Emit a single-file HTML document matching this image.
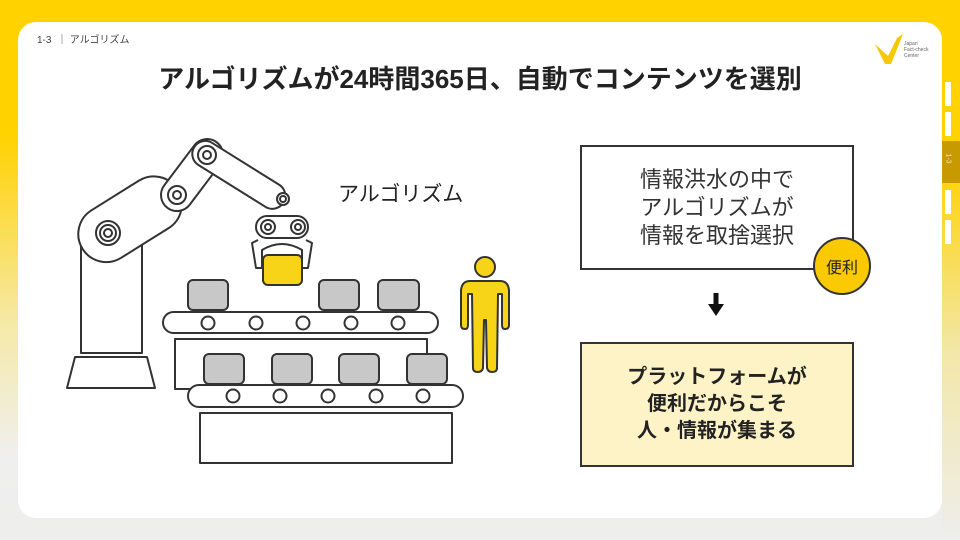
<!DOCTYPE html>
<html><head><meta charset="utf-8"><style>
html,body{margin:0;padding:0}
body{width:960px;height:540px;position:relative;overflow:hidden;font-family:"Liberation Sans","Noto Sans CJK JP",sans-serif;
background:linear-gradient(180deg,#ffd200 0%,#ffd200 25%,#f6e9a8 60%,#efefef 85%,#eeeeec 100%);}
.card{position:absolute;left:18px;top:22px;width:924px;height:496px;background:#fff;border-radius:18px;}
.t{position:absolute;white-space:nowrap;color:#222}
.box{position:absolute;border:2px solid #333;box-sizing:border-box;display:flex;align-items:center;justify-content:center;text-align:center;}
.tab{position:absolute;left:945px;width:6px;background:#fff}
</style></head><body>
<div style="position:absolute;left:942px;top:0;width:18px;height:540px;background:linear-gradient(180deg,#ffd200 0%,#ffd200 30%,#f3e7a8 65%,#eeeeec 100%)"></div>
<div class="card"></div>
<div class="tab" style="top:82px;height:24px"></div>
<div class="tab" style="top:112px;height:24px"></div>
<div style="position:absolute;left:942px;top:141px;width:18px;height:42px;background:#c69a00"></div>
<div class="t" style="left:943px;top:155px;font-size:7px;color:#f5e6b0;transform:rotate(90deg)">1-3</div>
<div class="tab" style="top:190px;height:24px"></div>
<div class="tab" style="top:220px;height:24px"></div>
<div class="t" style="left:37px;top:31px;font-size:10px;color:#444">1-3 &nbsp;｜ アルゴリズム</div>
<div class="t" style="left:0;width:960px;text-align:center;top:59px;font-size:26px;font-weight:bold;color:#222">アルゴリズムが24時間365日、自動でコンテンツを選別</div>
<svg style="position:absolute;left:873px;top:32px" width="36" height="36"><path d="M2 12 L12 32 L18 32 L30 2 L24 6 L15 24 Z" fill="#f5c800"/></svg>
<div class="t" style="left:904px;top:41px;font-size:5px;line-height:6px;color:#666">Japan<br>Fact-check<br>Center</div>

<svg style="position:absolute;left:0;top:0" width="960" height="540">
<g stroke="#333" stroke-width="2" fill="#fff" stroke-linejoin="round">
<polygon points="75,357 147,357 155,388 67,388"/>
<rect x="81" y="243" width="61" height="110"/>
<g transform="translate(108,233) rotate(-32)"><rect x="-30" y="-28" width="112" height="56" rx="28"/></g>
<g transform="translate(177,195) rotate(-53)"><rect x="-16" y="-16" width="82" height="32" rx="16"/></g>
<g transform="translate(207,155) rotate(32)"><rect x="-15" y="-13" width="105" height="26" rx="13"/></g>
<circle cx="108" cy="233" r="12"/><circle cx="108" cy="233" r="8"/><circle cx="108" cy="233" r="4"/>
<circle cx="177" cy="195" r="9"/><circle cx="177" cy="195" r="4"/>
<circle cx="207" cy="155" r="9"/><circle cx="207" cy="155" r="4"/>
<circle cx="283" cy="199" r="6"/><circle cx="283" cy="199" r="3"/>
<path d="M258 240 L252 243 L256 268 L262 268 L262 250 Q282 238 302 250 L302 268 L308 268 L312 243 L306 240"/>
<rect x="256" y="216" width="52" height="22" rx="11"/>
<circle cx="268" cy="227" r="7"/><circle cx="268" cy="227" r="3"/>
<circle cx="298" cy="227" r="7"/><circle cx="298" cy="227" r="3"/>
<rect x="263" y="255" width="39" height="30" rx="5" fill="#f7d417"/>
<rect x="188" y="280" width="40" height="30" rx="5" fill="#c8c8c8"/>
<rect x="319" y="280" width="40" height="30" rx="5" fill="#c8c8c8"/>
<rect x="378" y="280" width="41" height="30" rx="5" fill="#c8c8c8"/>
<rect x="163" y="312" width="275" height="21" rx="10.5"/>
<circle cx="208" cy="323" r="6.5"/><circle cx="256" cy="323" r="6.5"/><circle cx="303" cy="323" r="6.5"/><circle cx="351" cy="323" r="6.5"/><circle cx="398" cy="323" r="6.5"/>
<rect x="175" y="339" width="252" height="50"/>
<rect x="204" y="354" width="40" height="30" rx="5" fill="#c8c8c8"/>
<rect x="272" y="354" width="40" height="30" rx="5" fill="#c8c8c8"/>
<rect x="339" y="354" width="40" height="30" rx="5" fill="#c8c8c8"/>
<rect x="407" y="354" width="40" height="30" rx="5" fill="#c8c8c8"/>
<rect x="188" y="385" width="275" height="22" rx="11"/>
<circle cx="233" cy="396" r="6.5"/><circle cx="280" cy="396" r="6.5"/><circle cx="328" cy="396" r="6.5"/><circle cx="376" cy="396" r="6.5"/><circle cx="423" cy="396" r="6.5"/>
<rect x="200" y="413" width="252" height="50"/>
</g>
<g stroke="#333" stroke-width="2" fill="#f7d417" stroke-linejoin="round">
<circle cx="485" cy="267" r="10"/>
<path d="M470 281 L500 281 Q508 281 509 290 L509 325 Q509 329 505 329 Q502 329 502 325 L502 294 L498 294 L497 368 Q497 372 492 372 Q488 372 487 368 L486 320 L484 320 L483 368 Q482 372 478 372 Q473 372 473 368 L472 294 L468 294 L468 325 Q468 329 465 329 Q461 329 461 325 L461 290 Q462 281 470 281 Z"/>
</g>
<path d="M716 293 L716 306" stroke="#111" stroke-width="5"/>
<polygon points="708,304 724,304 716,316" fill="#111"/>
</svg>
<div class="t" style="left:338px;top:178px;font-size:21px;color:#222">アルゴリズム</div>
<div class="box" style="left:580px;top:145px;width:274px;height:125px;background:#fff;font-size:22px;line-height:28px;color:#333">情報洪水の中で<br>アルゴリズムが<br>情報を取捨選択</div>
<div style="position:absolute;left:813px;top:237px;width:58px;height:58px;border-radius:50%;background:#fbc900;border:2px solid #333;box-sizing:border-box;display:flex;align-items:center;justify-content:center;font-size:16px;color:#222">便利</div>
<div class="box" style="left:580px;top:342px;width:274px;height:125px;background:#fdf3c6;font-size:20px;font-weight:bold;line-height:27px;color:#222">プラットフォームが<br>便利だからこそ<br>人・情報が集まる</div>
</body></html>
